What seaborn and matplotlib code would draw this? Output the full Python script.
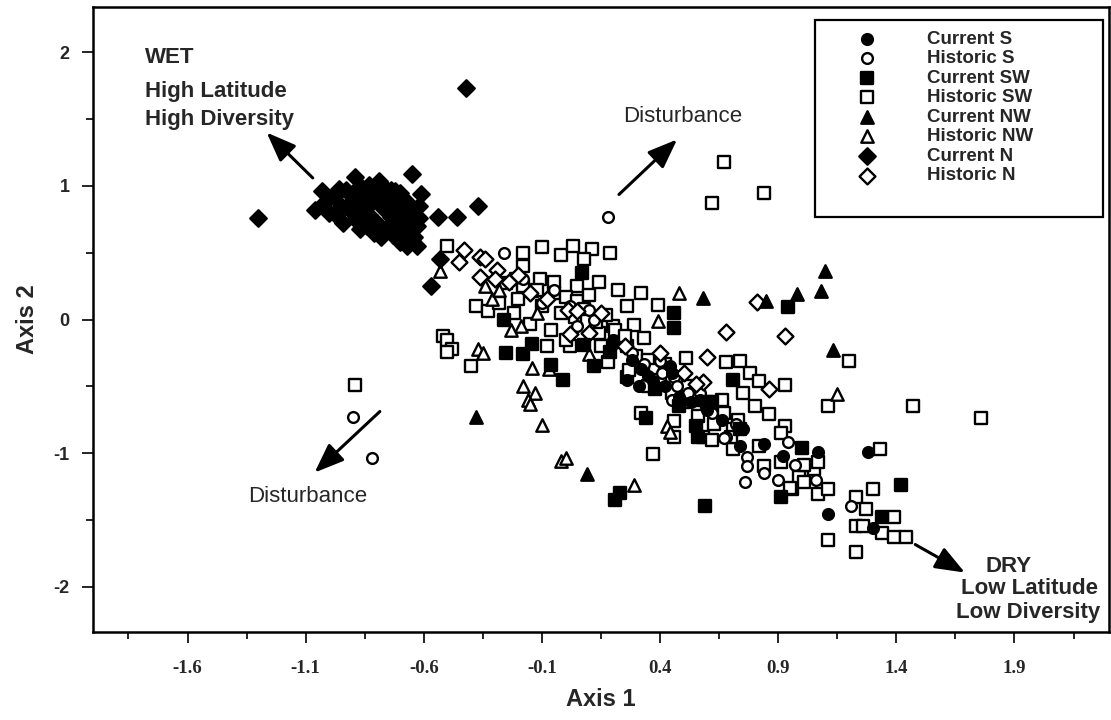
import matplotlib
matplotlib.use("Agg")
import matplotlib.pyplot as plt
import seaborn as sns
import pandas as pd
from matplotlib.patches import Rectangle
from matplotlib.ticker import FixedLocator

# ---------------- data ----------------
series_names = ["Current S", "Historic S", "Current SW", "Historic SW",
                "Current NW", "Historic NW", "Current N", "Historic N"]

cur_s = [(0.31, -0.50), (0.32, -0.37), (0.37, -0.46), (0.44, -0.35), (0.74, -0.95),
         (1.07, -0.99), (0.75, -0.82), (1.28, -0.99), (1.30, -1.56), (1.11, -1.46),
         (0.20, -0.15), (0.28, -0.30), (0.35, -0.42), (0.42, -0.50), (0.48, -0.58),
         (0.53, -0.62), (0.60, -0.68), (0.66, -0.75), (0.57, -0.60), (0.26, -0.45),
         (0.45, -0.40), (0.84, -0.93), (0.92, -1.02)]

hist_s = [(0.18, 0.77), (-0.26, 0.50), (0.40, -0.31), (0.68, -0.88), (0.77, -1.03),
          (0.76, -1.22), (0.84, -1.15), (0.57, -0.55), (0.46, -0.43), (0.10, 0.07),
          (-0.90, -0.73), (-0.82, -1.04), (0.67, -0.89), (0.77, -1.10), (0.94, -0.92),
          (0.97, -1.09), (1.06, -1.20), (1.21, -1.40), (-0.05, 0.22), (0.02, 0.10),
          (0.12, 0.00), (0.20, -0.18), (0.28, -0.25), (0.33, -0.33), (0.41, -0.40),
          (0.47, -0.50), (0.52, -0.55), (0.62, -0.70), (0.45, -0.60), (-0.18, 0.30),
          (-0.10, 0.12), (0.05, -0.05), (0.90, -1.20), (0.72, -0.78)]

cur_sw = [(0.07, 0.35), (-0.26, 0.00), (-0.25, -0.25), (-0.18, -0.26), (-0.14, -0.18),
          (-0.06, -0.34), (-0.01, -0.45), (0.08, -0.19), (0.12, -0.35), (0.19, -0.24),
          (0.46, 0.05), (0.46, -0.06), (0.94, 0.09), (0.71, -0.45), (0.34, -0.74),
          (0.56, -0.88), (0.74, -0.82), (1.00, -0.96), (0.23, -1.30), (0.21, -1.35),
          (0.91, -1.33), (0.59, -1.40), (1.42, -1.24), (1.34, -1.48), (0.38, -0.52),
          (0.55, -0.80), (0.62, -0.62), (0.48, -0.65)]

hist_sw = [(-0.50, 0.55), (-0.18, 0.50), (-0.10, 0.54), (-0.02, 0.48), (0.03, 0.55),
           (0.11, 0.53), (0.19, 0.50), (0.08, 0.45), (-0.18, 0.40), (-0.21, 0.30),
           (-0.11, 0.30), (-0.05, 0.28), (-0.14, 0.21), (0.05, 0.25), (0.14, 0.28),
           (0.22, 0.22), (0.32, 0.20), (0.26, 0.10), (0.39, 0.11), (-0.38, 0.10),
           (-0.33, 0.06), (0.20, -0.05), (0.29, -0.04), (0.33, -0.14), (0.14, -0.10),
           (0.02, -0.20), (-0.08, -0.20), (-0.52, -0.12), (-0.50, -0.15), (-0.48, -0.22),
           (-0.40, -0.35), (0.26, -0.20), (0.26, -0.43), (0.51, -0.29), (0.68, -0.32),
           (0.74, -0.31), (0.78, -0.40), (0.82, -0.46), (0.93, -0.49), (0.75, -0.55),
           (0.80, -0.65), (0.86, -0.71), (0.93, -0.80), (1.11, -0.65), (0.46, -0.76),
           (0.46, -0.88), (0.37, -1.01), (0.32, -0.70), (0.82, -0.95), (0.84, -1.10),
           (0.91, -0.85), (0.99, -1.18), (1.05, -1.12), (0.96, -1.27), (0.71, -0.97),
           (0.71, -0.82), (0.62, -0.65), (0.56, -0.60), (0.67, 1.18), (0.84, 0.95),
           (0.62, 0.87), (-0.89, -0.49), (-0.50, -0.24), (1.20, -0.31), (1.47, -0.65),
           (1.76, -0.74), (1.33, -0.97), (0.73, -0.75), (0.91, -1.07), (1.01, -1.09),
           (1.07, -1.07), (0.95, -1.26), (1.01, -1.22), (1.07, -1.31), (1.11, -1.27),
           (1.23, -1.33), (1.30, -1.27), (1.27, -1.42), (1.39, -1.48), (1.34, -1.60),
           (1.39, -1.63), (1.44, -1.63), (1.23, -1.55), (1.26, -1.55), (1.11, -1.65),
           (1.23, -1.74), (0.58, -0.88), (-0.25, 0.27), (-0.18, 0.25), (-0.12, 0.22),
           (-0.05, 0.20), (0.00, 0.17), (0.05, 0.14), (0.10, 0.18), (-0.20, 0.15),
           (-0.10, 0.10), (-0.02, 0.05), (0.04, 0.02), (0.08, 0.08), (0.13, -0.02),
           (0.17, 0.03), (0.21, -0.08), (0.25, -0.12), (0.30, -0.27), (0.35, -0.30),
           (0.38, -0.38), (0.42, -0.33), (0.48, -0.44), (0.52, -0.50), (0.55, -0.58),
           (0.60, -0.62), (0.50, -0.62), (0.45, -0.55), (0.40, -0.45), (0.35, -0.50),
           (0.56, -0.72), (0.63, -0.78), (0.67, -0.70), (0.70, -0.88), (0.62, -0.90),
           (0.66, -0.60), (-0.28, 0.12), (-0.22, 0.05), (-0.15, -0.03), (-0.06, -0.08),
           (0.00, -0.15), (0.15, -0.20), (0.18, -0.32), (0.27, -0.38)]

cur_nw = [(0.58, 0.16), (0.85, 0.14), (0.98, 0.19), (1.08, 0.21), (1.10, 0.36),
          (-0.38, -0.73), (0.09, -1.16), (1.13, -0.23)]

hist_nw = [(-0.53, 0.36), (-0.34, 0.25), (-0.31, 0.15), (-0.19, -0.05), (-0.23, -0.08),
           (-0.37, -0.22), (-0.35, -0.25), (-0.14, -0.36), (-0.07, -0.37), (-0.18, -0.50),
           (-0.13, -0.55), (-0.16, -0.60), (-0.15, -0.63), (-0.10, -0.79), (-0.02, -1.06),
           (0.00, -1.04), (0.29, -1.24), (0.48, 0.20), (0.39, -0.01), (0.10, -0.26),
           (0.43, -0.80), (0.44, -0.84), (-0.12, 0.05), (1.15, -0.56), (-0.28, 0.22)]

cur_n = [(-1.30, 0.76), (-0.42, 1.73), (-0.65, 1.09), (-0.61, 0.94), (-0.62, 0.85),
         (-0.62, 0.76), (-0.54, 0.77), (-0.46, 0.77), (-0.37, 0.85), (-0.72, 0.96),
         (-1.06, 0.82), (-1.03, 0.96), (-0.65, 0.60), (-0.63, 0.55), (-0.53, 0.45),
         (-0.57, 0.25), (-0.89, 1.07), (-0.79, 1.04),
         (-1.02, 0.88), (-0.98, 0.92), (-0.95, 0.85), (-0.93, 0.97), (-0.90, 0.80),
         (-0.88, 0.90), (-0.86, 0.84), (-0.85, 0.95), (-0.83, 0.78), (-0.82, 0.88),
         (-0.80, 0.72), (-0.79, 0.93), (-0.77, 0.83), (-0.76, 0.68), (-0.75, 0.90),
         (-0.74, 0.77), (-0.72, 0.86), (-0.71, 0.70), (-0.70, 0.95), (-0.69, 0.80),
         (-0.68, 0.65), (-0.67, 0.88), (-0.66, 0.74), (-0.65, 0.83), (-0.64, 0.62),
         (-0.63, 0.70), (-0.97, 0.78), (-0.94, 0.72), (-0.91, 0.93), (-0.89, 0.75),
         (-0.87, 0.68), (-0.84, 0.70), (-0.81, 0.65), (-0.78, 0.62), (-0.73, 0.63),
         (-0.96, 0.98), (-0.92, 0.86), (-0.87, 1.00), (-0.83, 1.01), (-0.80, 0.98),
         (-0.77, 0.99), (-0.74, 0.97), (-0.70, 0.58), (-0.67, 0.55), (-1.00, 0.80)]

hist_n = [(-0.43, 0.52), (-0.45, 0.43), (-0.36, 0.47), (-0.34, 0.45), (-0.36, 0.32),
          (-0.29, 0.37), (-0.24, 0.28), (0.81, 0.13), (0.68, -0.09), (0.93, -0.12),
          (0.60, -0.28), (0.58, -0.47), (0.86, -0.52), (0.01, 0.07), (0.02, -0.11),
          (-0.15, 0.20), (-0.08, 0.15), (0.05, 0.06), (0.10, -0.10), (0.15, 0.05),
          (0.25, -0.20), (0.40, -0.25), (0.50, -0.40), (0.55, -0.48), (-0.30, 0.30),
          (-0.20, 0.33)]

x_ticks = [-1.6, -1.1, -0.6, -0.1, 0.4, 0.9, 1.4, 1.9]
x_tick_labels = ["-1.6", "-1.1", "-0.6", "-0.1", "0.4", "0.9", "1.4", "1.9"]
y_ticks = [-2, -1, 0, 1, 2]
y_tick_labels = ["-2", "-1", "0", "1", "2"]

# ---------------- style ----------------
sns.set_style("ticks")
plt.rcParams['font.family'] = ['Liberation Sans', 'DejaVu Sans']

series_data = [cur_s, hist_s, cur_sw, hist_sw, cur_nw, hist_nw, cur_n, hist_n]
markers = ['o', 'o', 's', 's', '^', '^', 'D', 'D']
fills = ['black', 'white'] * 4
sizes = [60, 60, 80, 80, 80, 80, 70, 65]

frames = []
for name, pts in zip(series_names, series_data):
    d = pd.DataFrame(pts, columns=["Axis 1", "Axis 2"])
    d["group"] = name
    frames.append(d)
df = pd.concat(frames, ignore_index=True)

fig = plt.figure(figsize=(11.11, 7.2), dpi=100)
ax = fig.add_axes([93 / 1111, 1 - 632 / 720, (1109 - 93) / 1111, (632 - 7) / 720])

draw_order = [3, 1, 5, 7, 2, 0, 4, 6]
handles = {}
for i in draw_order:
    sub = df[df["group"] == series_names[i]]
    sns.scatterplot(data=sub, x="Axis 1", y="Axis 2", marker=markers[i], s=sizes[i],
                    color=fills[i], edgecolor='black', linewidth=1.7, ax=ax,
                    label=series_names[i], legend=False, zorder=3)
    handles[i] = ax.collections[-1]

ax.set_xlim(-2.0, 2.3)
ax.set_ylim(-2.34, 2.34)

ax.xaxis.set_major_locator(FixedLocator(x_ticks))
ax.set_xticklabels(x_tick_labels, fontfamily='Liberation Serif', fontweight='bold', fontsize=13.5)
ax.xaxis.set_minor_locator(FixedLocator([t + 0.25 for t in x_ticks] + [x_ticks[0] - 0.25]))
ax.yaxis.set_major_locator(FixedLocator(y_ticks))
ax.set_yticklabels(y_tick_labels, fontweight='bold', fontsize=13)
ax.yaxis.set_minor_locator(FixedLocator([-1.5, -0.5, 0.5, 1.5]))
ax.tick_params(which='major', direction='out', length=8, width=1.2, color='black')
ax.tick_params(which='minor', direction='out', length=5, width=1.2, color='black')
ax.tick_params(axis='x', which='major', pad=12)
ax.tick_params(axis='y', which='major', pad=9)

for sp in ax.spines.values():
    sp.set_visible(True)
    sp.set_linewidth(1.8)
    sp.set_color('black')

ax.set_xlabel("Axis 1", fontsize=17, fontweight='bold', labelpad=8)
ax.set_ylabel("Axis 2", fontsize=17, fontweight='bold', labelpad=10)

# legend
leg_handles = [handles[i] for i in range(8)]
leg = ax.legend(leg_handles, series_names, loc='upper left',
                bbox_to_anchor=(0.7437, 0.9776), frameon=False, borderpad=0,
                handlelength=1.0, handletextpad=2.7, labelspacing=0.13,
                prop={'weight': 'bold', 'size': 13.5})
ax.add_patch(Rectangle((0.7106, 0.664), 0.2835, 0.315, transform=ax.transAxes,
                       fill=False, edgecolor='black', linewidth=1.6, zorder=5))

# arrows
arrow_kw = dict(arrowstyle='-|>,head_length=0.9,head_width=0.35', lw=2.2,
                color='black', mutation_scale=20, shrinkA=0, shrinkB=0)
ax.annotate('', xy=(-1.265, 1.40), xytext=(-1.07, 1.06), arrowprops=arrow_kw)
ax.annotate('', xy=(0.472, 1.348), xytext=(0.226, 0.936), arrowprops=arrow_kw)
ax.annotate('', xy=(-1.062, -1.146), xytext=(-0.786, -0.689), arrowprops=arrow_kw)
ax.annotate('', xy=(1.69, -1.895), xytext=(1.48, -1.685), arrowprops=arrow_kw)

# texts
ax.text(-1.782, 1.963, "WET", fontsize=16, fontweight='bold', va='center', ha='left')
ax.text(-1.782, 1.708, "High Latitude", fontsize=16, fontweight='bold', va='center', ha='left')
ax.text(-1.782, 1.498, "High Diversity", fontsize=16, fontweight='bold', va='center', ha='left')
ax.text(0.497, 1.52, "Disturbance", fontsize=16, va='center', ha='center')
ax.text(-1.092, -1.326, "Disturbance", fontsize=16, va='center', ha='center')
ax.text(1.875, -1.85, "DRY", fontsize=16, fontweight='bold', va='center', ha='center')
ax.text(2.255, -2.015, "Low Latitude", fontsize=16, fontweight='bold', va='center', ha='right')
ax.text(2.262, -2.195, "Low Diversity", fontsize=16, fontweight='bold', va='center', ha='right')

fig.savefig("out.png", dpi=100)
